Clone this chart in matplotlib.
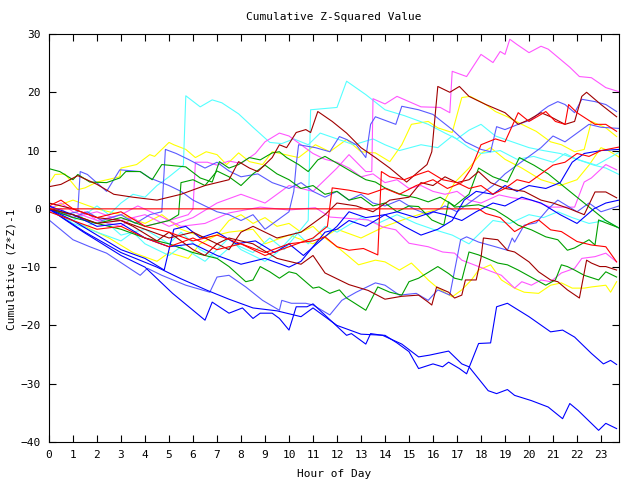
import matplotlib
matplotlib.use('Agg')
import matplotlib.pyplot as plt

# --- data: (hour, cumulative value) waypoints ---
red_zero = [(0, 0), (17.9, 0), (18.2, -0.8), (18.8, -1.5), (19.4, -3.9), (20, -2.5), (20.4, -1.9),
            (20.9, -3.6), (21.35, -3.9), (22, -5.6), (22.6, -6.2), (23.2, -6.5), (23.65, -9.1)]

blue_low = [(0, 0), (1.4, -3.9), (3, -8), (4, -10), (5.15, -14.5), (6.5, -19.1), (6.8, -16), (7.5, -17.9),
            (8.06, -17), (8.5, -18.8), (8.8, -17.9), (9.3, -17.9), (9.6, -18.8), (10, -20.8), (10.3, -16.8),
            (10.75, -16.8), (11, -16.3), (12.4, -21.7), (12.6, -21.4), (13.2, -23.2), (13.4, -21.4),
            (13.9, -21.7), (14.7, -23.2), (15.4, -25.4), (15.85, -25.1), (16.65, -24.4), (17.2, -26.6),
            (17.5, -27.1), (18.3, -31.2), (18.65, -31.7), (19.1, -31), (19.4, -32), (20.1, -32.9),
            (20.8, -34), (21.4, -36), (21.7, -33.4), (22.05, -34.6), (22.9, -38), (23.2, -36.8), (23.65, -37.7)]

blue_second = [(0, 0), (1.5, -4), (3, -7.5), (4.5, -10), (5.5, -12), (6.6, -14), (7.5, -15.5), (8.5, -17),
               (9.5, -17.5), (10.5, -18.5), (11, -17), (12, -20), (13, -21.5), (14, -21.7), (14.5, -23),
               (15, -24.5), (15.4, -27.4), (16, -26.6), (16.4, -27.1), (16.65, -26.3), (17.1, -27.4),
               (17.4, -28.3), (17.9, -23.1), (18.4, -23), (18.65, -16.8), (19.1, -16.2), (20, -18.5),
               (20.9, -21.1), (21.4, -20.8), (21.9, -22), (22.6, -24.8), (23.1, -26.6), (23.4, -26), (23.65, -26.7)]

lblue_low = [(0, -1.9), (1, -5.3), (1.7, -6.5), (2.4, -7.6), (3.8, -11.4), (4.1, -10.2), (4.7, -11.4),
             (5.7, -13.1), (6.7, -14.3), (7, -11.7), (7.5, -11.4), (8.2, -13.4), (8.9, -15.7), (9.6, -17.4),
             (9.7, -15.7), (10.1, -16.2), (10.7, -16.2), (11, -16.5), (11.7, -18.2), (12.2, -15.7),
             (12.8, -14.3), (13.6, -12.7), (14, -13.1), (14.6, -14.8), (15.3, -14.5), (15.8, -15.7),
             (16.2, -13.9), (16.7, -14.8), (17.15, -5.3), (17.4, -4.8), (17.9, -5.7), (18.6, -6.5),
             (19.1, -7.1), (19.3, -5), (19.4, -5.7), (19.8, -2.8), (20.3, -2.4), (20.8, 0), (21.2, 1.5),
             (21.6, 0.5), (22, -0.5), (22.5, 1), (23, -0.5), (23.75, 0.5)]

magenta_top = [(0, 0), (1, -1.5), (2, -0.5), (3, -2), (4, -1), (5, -3), (6, -1.5), (7, 1), (8, 2.5), (9, 1),
               (10, 4), (11, 3), (12, 7), (12.5, 9.3), (13.2, 6.4), (13.45, 6.4), (13.5, 18.9), (14, 18),
               (14.5, 19.3), (15.5, 17.5), (16.3, 17.4), (16.7, 16.5), (16.8, 23.6), (17.4, 22.7), (18, 26.5),
               (18.5, 25.1), (18.8, 27), (19, 26.5), (19.2, 29.1), (19.5, 28.2), (20, 26.8), (20.5, 27.9),
               (20.8, 27.4), (21.7, 24.3), (22.1, 22.7), (22.6, 22.5), (23.2, 20.8), (23.75, 20.1)]

cyan_spike = [(0, -0.5), (0.5, -1), (1, -2), (1.5, -1), (2, 0.5), (2.5, -1), (3, 1), (3.5, 2.5), (4, 2),
              (4.5, 4), (5, 5.5), (5.6, 7.5), (5.7, 19.4), (6.3, 17.5), (6.8, 18.7), (7.2, 18.2), (7.9, 16.3),
              (8.5, 14), (9.2, 11.4), (9.7, 11.2), (10.2, 12), (10.8, 11), (11.3, 13), (12, 12), (12.7, 11),
              (13.5, 12), (14, 11), (14.6, 10), (15.5, 11), (16.2, 10.5), (16.8, 12.5), (17.5, 10.5), (18, 9.5),
              (18.8, 10), (19.5, 8.5), (20.2, 9), (21, 8), (21.5, 9.5), (22, 8.5), (22.8, 7.5), (23.75, 9.7)]

cyan_two = [(0, 0), (0.7, -1.5), (1.5, -3), (2.3, -2), (3, -4.5), (4, -3.5), (5, -6), (5.5, -4), (6.3, -7),
            (7, -8.5), (7.7, -6), (8.5, -7.5), (9.2, -5), (9.8, -7), (10.4, -4), (10.8, -2), (10.9, 17),
            (12, 17.4), (12.4, 21.9), (13.2, 19.6), (14, 17), (14.8, 16), (15.8, 14.5), (16.5, 13), (17, 12),
            (17.5, 13.5), (18, 14.5), (18.6, 12.5), (19.3, 11.5), (20, 10.5), (20.6, 10), (21.3, 9.5),
            (22, 8.5), (22.7, 7.5), (23.2, 7), (23.75, 5.9)]

cyan_three = [(0, 0), (0.5, -1), (1, -2.5), (2, -4), (3, -5.5), (3.5, -4), (4, -6), (5, -8), (5.5, -6.5),
              (6.5, -9), (7, -7), (7.5, -5), (8, -7), (9, -9), (9.5, -7.5), (10.3, -4), (10.8, -6), (11.5, -3),
              (12, -4), (13, -1.5), (13.7, -2.5), (14.5, -1), (15.3, -2.5), (16, -3.5), (16.8, -4.5), (17.5, -6),
              (18, -4), (18.5, -2), (19.2, -2.5), (20, -1), (20.6, -1.5), (21.2, -0.5), (21.8, -1.5),
              (22.5, -2.5), (23.2, -2), (23.75, -3.3)]

dred_a = [(0, 3.8), (0.5, 4.2), (1.2, 5.7), (2, 4.2), (2.7, 2.5), (3.5, 2), (4.5, 1.5), (5.5, 2.5), (6.5, 4),
          (7.5, 5), (7.9, 8.1), (8.35, 7), (8.7, 6.4), (9.3, 8.8), (9.6, 11), (9.9, 10.5), (10.3, 13.1),
          (10.7, 13.6), (10.9, 13.1), (11.2, 16.7), (11.8, 15), (12.4, 13), (13, 10.5), (13.6, 8.8), (14.2, 7),
          (14.9, 4.6), (15.4, 6.4), (15.75, 7.6), (15.95, 9.8), (16.2, 21), (16.7, 20), (17.1, 21), (17.5, 19.3),
          (18.2, 17.9), (19, 16.5), (19.55, 14.5), (20, 15.3), (20.5, 16.5), (20.9, 15.8), (21.5, 14.5),
          (21.9, 15), (22.2, 19.3), (22.4, 20), (23, 17.9), (23.65, 15.8)]

dred_b = [(0, 1), (1, 0), (2, -1.5), (3, -2), (3.5, -3), (4.5, -5.5), (5, -4), (6, -7), (6.5, -8), (7, -6),
          (7.5, -5), (8.5, -6), (9.5, -8.5), (10.5, -9.5), (11, -8), (11.5, -11), (12.5, -13), (13.3, -14),
          (14, -15.5), (14.7, -15), (15.4, -14.8), (15.8, -16), (15.95, -16.5), (16.15, -13.4), (16.65, -14.3),
          (16.9, -15.3), (17.2, -14.8), (17.35, -12.2), (17.8, -12.2), (18, -8.4), (18.1, -5), (18.7, -5.3),
          (19.1, -7.1), (19.4, -7.4), (20, -9.1), (20.4, -10.8), (20.9, -12.2), (21.2, -12.5), (21.6, -13.9),
          (22.1, -15.3), (22.4, -8.8), (22.6, -9.3), (22.95, -9.9), (23.2, -9.9), (23.65, -10.5)]

dred_c = [(0, 0), (1, -1), (2, -2.5), (3, -2), (4, -3.5), (5, -5), (6, -4), (7, -6), (7.5, -7), (8, -4),
          (8.5, -3), (9.5, -5), (10.5, -4), (11.5, -1), (12, 1), (12.8, 0.5), (13.5, -0.5), (14.2, 1.5),
          (15, 2), (15.5, 4.5), (16, 4), (16.5, 5.5), (17, 4.5), (17.5, 5), (17.9, 6.4), (18.4, 4.5), (19, 3.5),
          (19.8, 3), (20.5, 1.5), (21, 1), (21.7, 0), (22.3, -1), (22.75, 2.9), (23.2, 2.9), (23.65, 1.9)]

red_13 = [(0, -0.5), (1, -2), (2, -3.5), (3, -3), (4, -5), (5, -6.5), (6, -5), (7, -7), (8, -6), (9, -8),
          (10, -6.5), (11, -5), (11.6, -3), (11.8, 3.6), (12.5, 3.2), (13.3, 2.5), (14, 3.5), (14.6, 2.5),
          (15.3, 4), (16, 5), (16.6, 3.5), (17.2, 4.5), (17.6, 7), (18, 11), (18.6, 12), (19, 11.5),
          (19.55, 16.5), (20, 15), (20.5, 16.2), (20.7, 16.7), (21.1, 15), (21.5, 14.5), (21.65, 17.9),
          (22, 16.5), (22.75, 14.5), (23.2, 14.5), (23.65, 13.3)]

red_10 = [(0, 0.5), (0.5, 1.5), (1, 0), (2, -1.5), (3, -0.5), (4, -3), (5, -4), (6, -5.5), (7, -4.5), (8, -6),
          (9, -7.5), (10, -6), (11, -5.5), (11.5, -4.8), (12, -6.5), (12.5, -7.1), (13.1, -6.8), (13.7, -7.9),
          (13.85, 6.4), (14.2, 5.5), (14.8, 5), (15.3, 5.8), (15.8, 6.5), (16.4, 5), (17, 4.5), (17.5, 3.5),
          (18, 4), (18.5, 2.5), (19, 3.5), (19.5, 5), (20, 4.5), (20.5, 6), (21, 7.5), (21.5, 8), (22, 9.5),
          (22.5, 9), (23, 10), (23.75, 10.6)]

blue_10 = [(0, 0), (1, -2), (2, -4.5), (3, -7), (4, -8.5), (4.8, -10.5), (5.2, -3.5), (5.7, -3), (6.3, -5),
           (7, -4), (7.8, -6), (8.6, -5.5), (9.4, -7.5), (10, -6), (10.6, -8), (11.3, -5.5), (12, -3),
           (12.5, -0.5), (13.2, -1.5), (14, -1), (14.8, -3), (15.5, -4.5), (16.2, -3.5), (16.8, -2), (17.3, 1.5),
           (17.8, 3), (18.5, 2.5), (19, 4), (19.5, 3), (20, 4), (20.7, 3.5), (21.3, 4.5), (21.8, 8), (22.3, 9.5),
           (23, 10), (23.75, 10.2)]

blue_2 = [(0, 0.5), (1, -1), (2, -3), (3, -2.5), (4, -5), (5, -6.5), (6, -6), (7, -8), (8, -9.5), (9, -8.5),
          (10, -10), (10.5, -9), (11, -6.5), (11.5, -4), (12, -3.5), (12.5, -2), (13.2, -3), (14, -1),
          (14.5, -0.5), (15.3, -1.5), (16, -0.5), (16.5, -1), (17.2, -2), (17.8, -0.5), (18.5, 1), (19, 0.5),
          (19.7, 2), (20.5, 1), (21.3, -1), (22, -2.5), (22.7, 0), (23.2, 1), (23.75, 1.5)]

lblue_a = [(0, 0), (0.6, -1), (1.2, -0.5), (1.3, 6.4), (1.6, 5.9), (2.4, 3), (2.95, 6.7), (3.8, 6.4),
           (4.2, 5.3), (5, 4), (5.5, 3), (6, 1.5), (6.5, 0.5), (7, -0.5), (7.5, -1), (8, -2), (8.5, -1),
           (9, -3.5), (9.5, -2), (10, -0.5), (10.2, 3), (10.3, 7.6), (10.4, 11), (11.1, 10.5), (11.7, 9.8),
           (12.1, 12.4), (12.4, 11.9), (12.8, 11), (13.2, 8.8), (13.4, 14.5), (13.6, 15.8), (14.45, 14.5),
           (14.7, 17.6), (15.4, 17), (16, 16.2), (16.8, 13.6), (17.35, 11.5), (18, 10.2), (18.4, 9.8),
           (18.65, 14.1), (19, 13.6), (19.55, 14.5), (20.1, 15.3), (20.5, 16.7), (20.8, 17.6), (21.2, 18.4),
           (21.5, 17.9), (21.9, 16.5), (22.2, 18.8), (22.75, 18.4), (23.2, 17.9), (23.65, 16.7)]

lblue_b = [(0, 0.5), (0.5, -0.5), (1, -1.5), (1.6, -0.5), (2.2, -2), (3, -1), (3.6, -2.5), (4.2, -1),
           (4.7, -0.5), (4.85, 10.2), (5.3, 9.5), (5.8, 8.5), (6.5, 7), (7, 8), (7.5, 6.5), (8, 5.5), (8.7, 6),
           (9.3, 4.5), (10, 3.5), (10.5, 4.5), (11, 3), (11.5, 2), (12, 3), (12.5, 1.5), (13, 2.5), (13.5, 1),
           (14, 0.5), (14.6, 1.5), (15.2, 0), (15.8, -1), (16.5, 0.5), (17, -0.5), (17.5, 1), (18, 2.5),
           (18.5, 4), (19, 6), (19.5, 7.5), (20, 9), (20.5, 10.5), (21, 12.5), (21.5, 11.5), (22, 13),
           (22.5, 14.5), (23, 14), (23.75, 13.8)]

green_top = [(0, 6.9), (0.45, 6.4), (1, 5), (1.2, 5.9), (1.7, 4.6), (2.4, 4.5), (2.95, 5.3), (3.2, 6.4),
             (3.8, 6.4), (4.3, 5), (4.7, 7.6), (5.7, 7.2), (6.3, 5.3), (6.8, 4.6), (7.1, 8.1), (7.5, 7),
             (7.9, 7.6), (8.35, 8.8), (8.8, 8.4), (9.3, 9.6), (9.6, 9.8), (9.9, 8.8), (10.4, 7.6), (10.8, 6.4),
             (11.2, 8.4), (11.5, 9), (12.1, 7.6), (12.6, 6.4), (13.2, 5), (13.6, 4.6), (14, 3.6), (14.7, 2.4),
             (15.3, 1.9), (15.8, 1.2), (16.3, 2), (16.9, 0.5), (17.5, 2.5), (17.9, 7), (18.5, 5.5), (19.1, 4.6),
             (19.6, 8.8), (20.2, 7.5), (20.8, 6), (21.4, 4), (22, 2), (22.6, 0), (23.2, -2), (23.75, -3.3)]

green_mid = [(0, 0), (1, -1.5), (2, -2.5), (3, -3.5), (4, -5), (5, -6), (6, -7.5), (7, -8.5), (7.5, -9.9),
             (8.2, -12.5), (8.5, -12.2), (8.8, -9.9), (9.2, -10.8), (9.6, -11.9), (10, -10.8), (10.3, -11.1),
             (11, -13.6), (11.25, -13.4), (11.7, -14.5), (12.1, -13.9), (12.4, -15.3), (13.2, -17.4),
             (13.7, -13.4), (14.2, -14.3), (14.7, -14.8), (15, -12.5), (15.4, -11.9), (15.6, -11.4),
             (16.2, -9.9), (16.65, -11.1), (16.9, -11.9), (17.2, -12.2), (17.5, -7.4), (17.9, -7.9),
             (18.7, -9.3), (19.1, -9.6), (19.55, -10.5), (20.3, -12.2), (20.7, -13.1), (21.1, -12.2),
             (21.35, -9.6), (21.6, -9.9), (21.9, -10.5), (22.3, -11.4), (22.9, -12.2), (23.2, -10.8), (23.65, -11.7)]

green_three = [(0, 0), (1, -1), (2, -2.5), (3, -1.5), (4, -3), (5, -2), (5.4, -1), (5.5, 4.5), (6, 5),
               (6.5, 4), (7, 6.5), (7.5, 5.5), (8, 4), (8.5, 6), (9, 7.5), (9.5, 6), (10, 5), (10.5, 3.5),
               (11, 4), (11.5, 2.5), (12, 3), (12.5, 1.5), (13, 2), (13.5, 0.5), (14, 1), (14.5, -0.5),
               (15, 0.5), (15.4, 0.4), (15.95, -1.9), (16.45, -2.8), (16.65, 1.2), (16.9, 0.3), (17.9, 0.7),
               (18.6, -0.2), (19.1, -1.5), (19.55, -2.8), (20.1, -3.6), (20.7, -4.8), (21.2, -5.3), (21.6, -7.1),
               (21.9, -6.7), (22.5, -5.3), (22.75, -6.2), (22.9, -1.9), (23.2, -2.4), (23.65, -3.1)]

magenta_two = [(0, -0.5), (0.5, 0), (1, -1.5), (1.5, -0.5), (2, -2), (3, -3), (3.5, -1.5), (4, -3), (5, -2),
               (5.8, -1), (6, 0), (6.1, 8), (6.6, 8), (7, 7.5), (7.5, 8.2), (8, 7.8), (8.6, 9.5), (9, 11.5),
               (9.6, 13), (10, 12.5), (10.5, 11), (11, 9.5), (11.5, 8.5), (12, 8), (12.5, 7), (13, 5.5),
               (13.5, 6), (14, 4.5), (14.5, 5), (15, 3.5), (15.5, 4), (16, 3), (16.5, 2.5), (17, 3), (17.5, 1.5),
               (18, 1), (18.75, 2.4), (19.3, 1.9), (20.1, 1.5), (20.9, 0.3), (21.9, 0.3), (22.3, 4.6),
               (22.6, 5.3), (23.2, 7.6), (23.65, 6.7)]

magenta_three = [(0, 0), (0.5, 1), (1, -0.5), (2, -2), (3, -1), (3.7, 0.5), (4.5, -1), (5.5, -3), (6.5, -2.5),
                 (7.5, -0.7), (8.8, 0.3), (10, -0.2), (11.1, 0.2), (11.7, -1.4), (13.3, -1.9), (13.9, -3.1),
                 (14.45, -3.6), (15, -5.9), (15.8, -6.5), (16.4, -7.4), (16.9, -7.6), (17.2, -8.8),
                 (18.85, -11.4), (19.4, -13.6), (19.7, -12.5), (20.1, -13.1), (20.5, -12.2), (20.9, -12.5),
                 (21.35, -11), (21.9, -10.2), (22.2, -8.5), (22.75, -8.2), (23.2, -7.6), (23.65, -9.1)]

yellow_a = [(0.04, 4.6), (0.25, 5.9), (0.66, 6), (1.2, 3.3), (1.5, 3.6), (2, 4.6), (2.95, 5.5), (3, 7),
            (3.65, 7.6), (4.2, 9.3), (4.4, 9), (5, 11.4), (5.2, 11), (5.7, 10.2), (6.1, 8.8), (6.55, 9.8),
            (7, 9.3), (7.4, 7.6), (7.9, 9.6), (8.35, 8.1), (8.9, 7.6), (9.3, 9.8), (10.4, 8.8), (11.1, 11),
            (11.7, 9.8), (12.4, 11.9), (13, 9.8), (13.6, 9.6), (14.2, 8.1), (14.7, 11), (15.1, 14.5),
            (15.8, 15), (16.2, 13.9), (16.8, 13.1), (17.2, 19.1), (17.55, 19.3), (18.2, 17.9), (18.6, 16.7),
            (19.1, 15.8), (19.7, 14.5), (20.3, 13.3), (20.9, 11.5), (21.35, 11), (21.9, 9.8), (22.3, 10.2),
            (22.6, 15), (23.2, 13.9), (23.65, 12.4)]

yellow_9 = [(0, 0), (1, 1.5), (2, 0), (3, -1), (4, -2.5), (4.7, -1), (5.5, -3.5), (6.5, -5), (7.5, -4),
            (8.5, -3.5), (9, -6), (10, -4.5), (11, -6), (12, -3.5), (13, -5), (14, -3), (15, -1.5), (15.8, -0.5),
            (16.3, 0), (16.9, 4.5), (17.5, 7), (18, 9.5), (18.4, 10.5), (19, 8.5), (19.7, 7), (20.5, 5),
            (21.3, 4), (22, 5), (22.5, 7.5), (23, 10.5), (23.3, 10), (23.75, 8.9)]

yellow_low = [(0, 0), (0.7, -1.5), (1.5, -3), (2.5, -5), (3.5, -7.5), (4.5, -9), (5, -7.5), (5.8, -8.5),
              (6.3, -6), (7, -4.5), (7.5, -2), (8, -1), (8.5, -2.5), (9, -1.5), (9.5, -3), (10, -2.5),
              (10.5, -4), (11, -3), (11.5, -5), (12, -6.5), (12.5, -8.2), (12.9, -9.6), (13.6, -8.8), (14, -9.1),
              (14.6, -10.5), (15.1, -9.3), (15.4, -10.5), (15.8, -12.2), (16.2, -13.6), (16.8, -15.1),
              (17.2, -13.9), (17.6, -12.2), (17.9, -10.5), (18.4, -9.6), (18.85, -12.2), (19.4, -13.6),
              (19.8, -14.3), (20.4, -14.5), (20.9, -13.1), (21.35, -12.7), (21.8, -13.6), (22.3, -13.6),
              (22.6, -13.4), (23.2, -13.1), (23.4, -14.3), (23.65, -12.5)]

RED, GREEN, BLUE = '#ff0000', '#00a000', '#0000ff'
MAGENTA, CYAN, DRED = '#ff55ff', '#55ffff', '#a00000'
YELLOW, LBLUE = '#ffff00', '#5a5aff'

series = [
    (yellow_low, YELLOW), (yellow_9, YELLOW), (yellow_a, YELLOW),
    (cyan_three, CYAN), (cyan_two, CYAN), (cyan_spike, CYAN),
    (magenta_three, MAGENTA), (magenta_two, MAGENTA), (magenta_top, MAGENTA),
    (lblue_low, LBLUE), (lblue_a, LBLUE), (lblue_b, LBLUE),
    (green_mid, GREEN), (green_three, GREEN), (green_top, GREEN),
    (blue_2, BLUE), (blue_10, BLUE), (blue_second, BLUE), (blue_low, BLUE),
    (dred_b, DRED), (dred_c, DRED), (dred_a, DRED),
    (red_10, RED), (red_13, RED), (red_zero, RED),
]

plt.rcParams['font.family'] = 'DejaVu Sans Mono'
plt.rcParams['font.size'] = 8

fig = plt.figure(figsize=(6.4, 4.8), dpi=100)
ax = fig.add_axes([49 / 640, 1 - 442 / 480, 570 / 640, 408 / 480])

for pts, col in series:
    hrs = [p[0] for p in pts]
    vals = [p[1] for p in pts]
    ax.plot(hrs, vals, color=col, lw=0.8)

ax.set_xlim(0, 23.75)
ax.set_ylim(-40, 30)
ax.set_xticks(range(24))
ax.set_yticks(range(-40, 31, 10))
ax.tick_params(direction='in', top=True, right=True, length=5, width=0.8, pad=6)
for s in ax.spines.values():
    s.set_linewidth(0.8)

ax.set_title('Cumulative Z-Squared Value', fontsize=8, pad=10)
ax.set_xlabel('Hour of Day', labelpad=6)
ax.set_ylabel('Cumulative (Z*Z)-1', va='center')
ax.yaxis.set_label_coords(-0.065, 0.424)

fig.savefig('out.png', dpi=100)
